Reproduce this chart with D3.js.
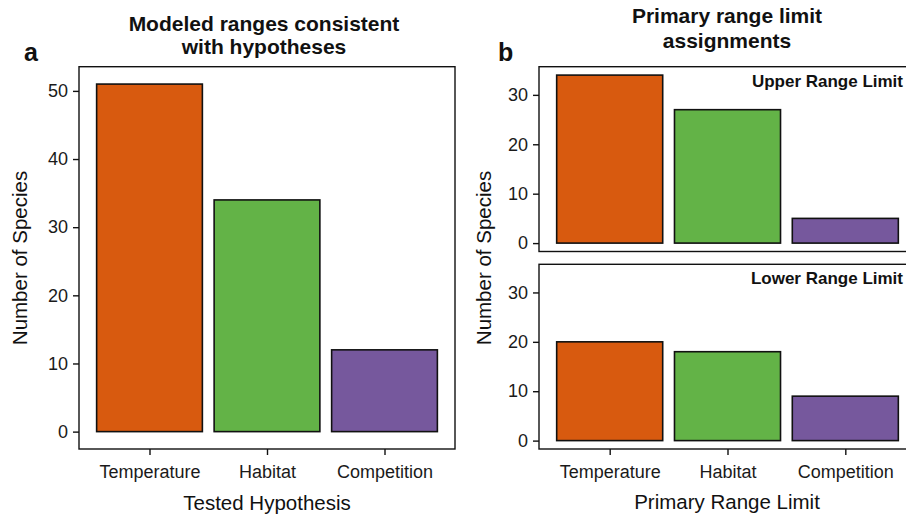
<!DOCTYPE html>
<html>
<head>
<meta charset="utf-8">
<script src="https://cdn.jsdelivr.net/npm/d3@7"></script>
<style>
  html, body { margin: 0; padding: 0; background: #fff; }
  svg { display: block; font-family: "Liberation Sans", Arial, Helvetica, sans-serif; }
</style>
</head>
<body>
<svg id="chart" width="906" height="514"></svg>
<script>
// ---- data ----
const categories = ["Temperature", "Habitat", "Competition"];
const hypothesisCounts = [51, 34, 12];       // panel a
const upperLimitCounts = [34, 27, 5];        // panel b, upper range limit
const lowerLimitCounts = [20, 18, 9];        // panel b, lower range limit
const colors = ["#d85a0f", "#63b347", "#76589d"];
const ticksA = [0, 10, 20, 30, 40, 50];
const ticksB = [0, 10, 20, 30];

const svg = d3.select("#chart");

const tickFont = 18, axisTitleFont = 20.5;

function drawPanel(opts) {
  const { x0, x1, y0, y1, values, ymax, ticks, showX, label } = opts;
  const x = d3.scalePoint().domain(categories).range([x0, x1]).padding(0.6);
  const pad = ymax * 0.05;
  const y = d3.scaleLinear().domain([-pad, ymax + pad]).range([y1, y0]);
  const g = svg.append("g");
  // bars
  const bw = x.step() * 0.9;
  g.selectAll("rect.bar").data(values).join("rect")
    .attr("class", "bar")
    .attr("x", (d, i) => x(categories[i]) - bw / 2)
    .attr("width", bw)
    .attr("y", d => y(d))
    .attr("height", d => y(0) - y(d))
    .attr("fill", (d, i) => colors[i])
    .attr("stroke", "#111")
    .attr("stroke-width", 1.6);
  // box
  g.append("rect")
    .attr("x", x0).attr("y", y0)
    .attr("width", x1 - x0).attr("height", y1 - y0)
    .attr("fill", "none").attr("stroke", "#111").attr("stroke-width", 1.4);
  // y axis
  const ya = d3.axisLeft(y).tickValues(ticks).tickSize(6).tickPadding(5).tickFormat(d3.format("d"));
  const yg = g.append("g").attr("transform", `translate(${x0},0)`).call(ya);
  yg.select(".domain").remove();
  yg.selectAll("line").attr("stroke", "#111").attr("stroke-width", 1.4);
  yg.selectAll("text").attr("font-size", tickFont).attr("fill", "#1a1a1a")
    .attr("font-family", "Liberation Sans, Arial, sans-serif");
  if (showX) {
    const xa = d3.axisBottom(x).tickSize(6).tickPadding(10);
    const xg = g.append("g").attr("transform", `translate(0,${y1})`).call(xa);
    xg.select(".domain").remove();
    xg.selectAll("line").attr("stroke", "#111").attr("stroke-width", 1.4);
    xg.selectAll("text").attr("font-size", tickFont).attr("fill", "#1a1a1a")
      .attr("font-family", "Liberation Sans, Arial, sans-serif");
  }
  if (label) {
    g.append("text").attr("x", x1 - 13).attr("y", y0 + 20)
      .attr("text-anchor", "end").attr("font-weight", "bold")
      .attr("font-size", 17).attr("fill", "#111").text(label);
  }
  return x;
}

// ---- panel a ----
drawPanel({ x0: 79, x1: 455, y0: 66.7, y1: 449, values: hypothesisCounts,
  ymax: d3.max(hypothesisCounts), ticks: ticksA, showX: true });

// ---- panel b ----
const ymaxB = d3.max(upperLimitCounts.concat(lowerLimitCounts));
drawPanel({ x0: 539, x1: 916, y0: 66.7, y1: 251.5, values: upperLimitCounts,
  ymax: ymaxB, ticks: ticksB, showX: false, label: "Upper Range Limit" });
drawPanel({ x0: 539, x1: 916, y0: 264.3, y1: 449, values: lowerLimitCounts,
  ymax: ymaxB, ticks: ticksB, showX: true, label: "Lower Range Limit" });

// ---- titles and labels ----
function text(x, y, s, size, weight, anchor, rotate) {
  const t = svg.append("text").attr("x", x).attr("y", y)
    .attr("font-size", size).attr("font-weight", weight || "normal")
    .attr("text-anchor", anchor || "middle").attr("fill", "#111").text(s);
  if (rotate) t.attr("transform", `rotate(-90,${x},${y})`);
  return t;
}
text(264, 30.5, "Modeled ranges consistent", 21, "bold");
text(264, 53.5, "with hypotheses", 21, "bold");
text(727, 23, "Primary range limit", 21, "bold");
text(727, 48, "assignments", 21, "bold");
text(24, 61, "a", 25, "bold", "start");
text(498, 61, "b", 25, "bold", "start");
text(267, 510, "Tested Hypothesis", axisTitleFont);
text(727, 509, "Primary Range Limit", axisTitleFont);
text(27, 258, "Number of Species", axisTitleFont, "normal", "middle", true);
text(491, 258, "Number of Species", axisTitleFont, "normal", "middle", true);
</script>
</body>
</html>
